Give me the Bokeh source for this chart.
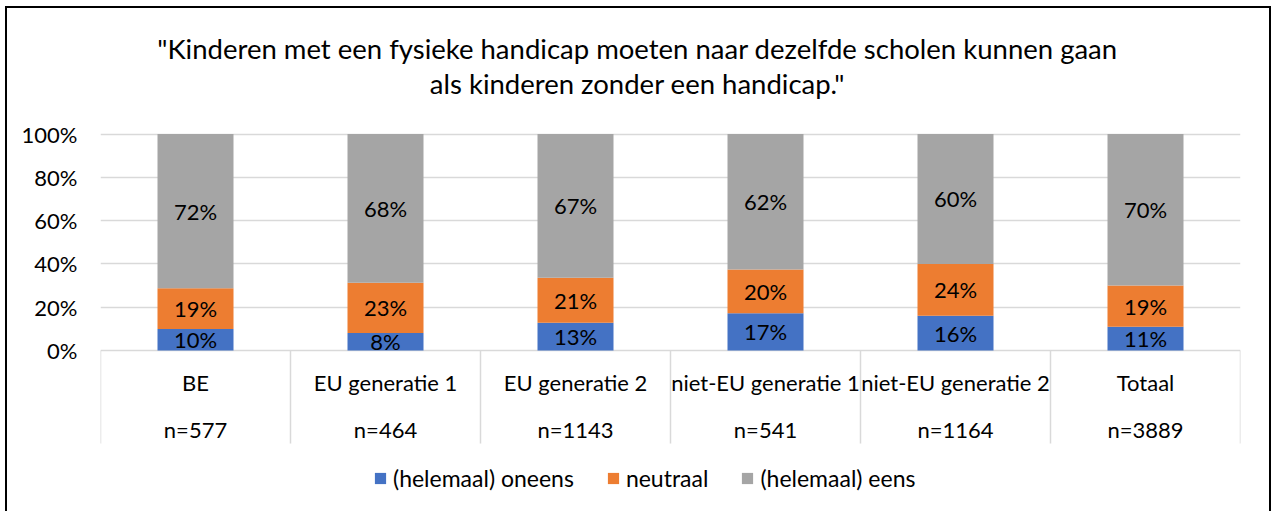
from bokeh.plotting import figure
from bokeh.models import Range1d, FixedTicker, NumeralTickFormatter, ColumnDataSource, Legend, LegendItem
from bokeh.core.properties import value
from bokeh.embed import file_html
from bokeh.resources import INLINE

# ---------------- data ----------------
categories = ["BE", "EU generatie 1", "EU generatie 2", "niet-EU generatie 1", "niet-EU generatie 2", "Totaal"]
n_labels = ["n=577", "n=464", "n=1143", "n=541", "n=1164", "n=3889"]
oneens = [10, 8, 13, 17, 16, 11]
neutraal = [19, 23, 21, 20, 24, 19]
eens = [72, 68, 67, 62, 60, 70]
series_names = ["(helemaal) oneens", "neutraal", "(helemaal) eens"]
y_ticks = [0, 0.2, 0.4, 0.6, 0.8, 1.0]
title_lines = ['"Kinderen met een fysieke handicap moeten naar dezelfde scholen kunnen gaan',
               'als kinderen zonder een handicap."']

# ---------------- styling ----------------
FONT = "Lato"
FS = "22px"
colors = ["#4472C4", "#ED7D31", "#A5A5A5"]
grid_col = "#D9D9D9"

W, H = 1262, 503
p = figure(width=W, height=H, output_backend="svg", toolbar_location=None,
           x_range=Range1d(0, 6), y_range=Range1d(-0.7436, 1.5797),
           x_axis_location=None, min_border_left=93, min_border_right=29,
           min_border_top=0, min_border_bottom=0, tools="")
p.outline_line_color = None
p.background_fill_color = "white"
p.border_fill_color = "white"
p.styles = {"margin-left": "7px", "margin-top": "8px", "outline": "2px solid black"}

# y axis
p.yaxis.ticker = FixedTicker(ticks=y_ticks)
p.yaxis.formatter = NumeralTickFormatter(format="0%")
p.yaxis.axis_line_color = None
p.yaxis.major_tick_line_color = None
p.yaxis.minor_tick_line_color = None
p.yaxis.major_tick_out = 0
p.yaxis.major_tick_in = 0
p.yaxis.major_label_standoff = 23
p.yaxis.major_label_text_font = FONT
p.yaxis.major_label_text_font_size = FS
p.yaxis.major_label_text_color = "black"
p.ygrid.ticker = FixedTicker(ticks=y_ticks)
p.ygrid.grid_line_color = grid_col
p.ygrid.grid_line_width = 1.3
p.xgrid.grid_line_color = None

# stacked shares (100% stacked)
xs = [i + 0.5 for i in range(len(categories))]
series = [oneens, neutraal, eens]
bottoms, tops = [], []
for j in range(len(categories)):
    tot = sum(s[j] for s in series)
    acc = 0.0
    b_row, t_row = [], []
    for s in series:
        b_row.append(acc)
        acc += s[j] / tot
        t_row.append(acc)
    bottoms.append(b_row)
    tops.append(t_row)

items = []
for k, name in enumerate(series_names):
    src = ColumnDataSource(dict(
        x=xs,
        bottom=[bottoms[j][k] for j in range(len(xs))],
        top=[tops[j][k] for j in range(len(xs))],
        mid=[(bottoms[j][k] + tops[j][k]) / 2 for j in range(len(xs))],
        lab=[f"{series[k][j]}%" for j in range(len(xs))],
    ))
    r = p.vbar(x="x", width=0.4, bottom="bottom", top="top", source=src,
               fill_color=colors[k], line_color=None)
    p.text(x="x", y="mid", text="lab", source=src, text_font=value(FONT),
           text_font_size=FS, text_align="center", text_baseline="middle",
           text_color="black")
    items.append(LegendItem(label=name, renderers=[r]))

# category table below the axis
TABLE_BOTTOM = -0.4296
p.segment(x0=list(range(len(categories) + 1)), y0=[0] * (len(categories) + 1),
          x1=list(range(len(categories) + 1)), y1=[TABLE_BOTTOM] * (len(categories) + 1),
          line_color=grid_col, line_width=1.5)
p.text(x=xs, y=[-0.148] * len(xs), text=categories, text_font=value(FONT),
       text_font_size=FS, text_align="center", text_baseline="middle", text_color="black")
p.text(x=xs, y=[-0.365] * len(xs), text=n_labels, text_font=value(FONT),
       text_font_size=FS, text_align="center", text_baseline="middle", text_color="black")

# title
p.text(x=[2.826, 2.826], y=[1.395, 1.233], text=title_lines, text_font=value(FONT),
       text_font_size="27.5px", text_align="center", text_baseline="middle", text_color="black")

# legend
legend = Legend(items=items, orientation="horizontal", location=(273, 19),
                label_text_font=FONT, label_text_font_size="23px", label_text_color="black",
                glyph_width=14, glyph_height=14, spacing=32, label_standoff=6,
                padding=0, margin=0, border_line_color=None, background_fill_alpha=0)
p.add_layout(legend)

open("out.html", "w").write(file_html(p, INLINE))
